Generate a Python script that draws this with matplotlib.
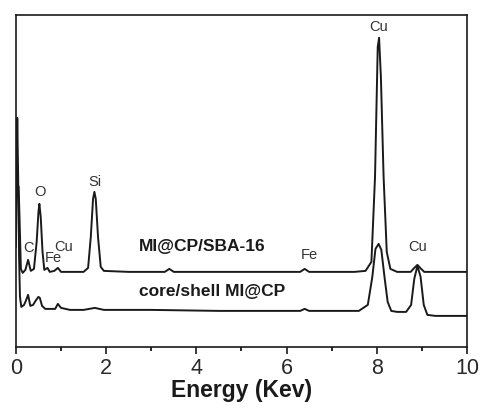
import matplotlib
matplotlib.use("Agg")
import matplotlib.pyplot as plt
from matplotlib.ticker import MultipleLocator

plt.rcParams['font.family'] = ['Liberation Sans', 'DejaVu Sans']

# Spectrum of MI@CP/SBA-16 (energy keV, intensity a.u.)
sba_x = [0.06, 0.08, 0.11, 0.15, 0.21, 0.27, 0.33, 0.40, 0.46, 0.50, 0.52, 0.55, 0.59,
         0.63, 0.70, 0.75, 0.85, 0.93, 1.00, 1.20, 1.50, 1.60, 1.66, 1.71, 1.74, 1.77,
         1.82, 1.88, 1.95, 2.50, 3.30, 3.40, 3.50, 4.50, 5.50, 6.30, 6.40, 6.50, 7.50,
         7.75, 7.88, 7.96, 8.02, 8.05, 8.09, 8.15, 8.22, 8.30, 8.45, 8.75, 8.83, 8.90,
         8.96, 9.05, 9.20, 10.0]
sba_y = [160, 130, 78, 74, 77, 87, 76, 78, 105, 135, 143, 130, 95,
         77, 79, 75, 76, 79, 75, 75, 75, 79, 110, 148, 155, 148,
         110, 80, 76, 75, 75, 78, 75, 75, 75, 75, 78, 75, 75,
         76, 85, 170, 300, 309, 270, 170, 95, 78, 75, 75, 79, 82,
         79, 75, 75, 75]

# Spectrum of core/shell MI@CP
cs_x = [0.00, 0.03, 0.05, 0.07, 0.09, 0.12, 0.18, 0.22, 0.27, 0.32, 0.38, 0.45, 0.50,
        0.53, 0.58, 0.65, 0.75, 0.87, 0.93, 1.00, 1.20, 1.50, 1.75, 1.95, 3.00, 4.50,
        6.30, 6.40, 6.50, 7.60, 7.80, 7.90, 7.97, 8.04, 8.10, 8.17, 8.24, 8.32, 8.45,
        8.65, 8.76, 8.83, 8.90, 8.97, 9.04, 9.12, 9.30, 10.0]
cs_y = [100, 229, 170, 90, 50, 40, 42, 46, 52, 41, 42, 47, 50,
        49, 41, 38, 38, 38, 43, 39, 37, 37, 39, 37, 37, 36,
        36, 38, 36, 36, 42, 70, 98, 103, 97, 70, 45, 36, 35,
        35, 42, 68, 81, 70, 42, 32, 31, 31]

# Peak labels
peak_labels = ["C", "O", "Fe", "Cu", "Si", "Fe", "Cu", "Cu"]
peak_label_x = [0.29, 0.53, 0.82, 1.06, 1.75, 6.50, 8.03, 8.91]
peak_label_y = [99, 155, 89, 100, 165, 92, 320, 100]

fig = plt.figure(figsize=(4.82, 4.12), dpi=100)
ax = fig.add_axes([0.033, 0.158, 0.936, 0.806])

ax.plot(sba_x, sba_y, color='#1a1a1a', lw=1.4)
ax.plot(cs_x, cs_y, color='#1a1a1a', lw=1.4)

for t, x, y in zip(peak_labels, peak_label_x, peak_label_y):
    ax.text(x, y, t, ha='center', va='center', fontsize=10.5, color='#333333')

ax.text(4.14, 100, "MI@CP/SBA-16", ha='center', va='center', fontsize=12.5,
        fontweight='bold', color='#1a1a1a')
ax.text(4.34, 55, "core/shell MI@CP", ha='center', va='center', fontsize=12.5,
        fontweight='bold', color='#1a1a1a')

ax.set_xlim(0, 10)
ax.set_ylim(0, 332)
ax.set_yticks([])
ax.xaxis.set_major_locator(MultipleLocator(2))
ax.xaxis.set_minor_locator(MultipleLocator(1))
ax.tick_params(axis='x', which='major', direction='out', length=5, width=1.2,
               labelsize=15.5, colors='#1a1a1a', labelcolor='#2a2a2a', pad=3)
ax.tick_params(axis='x', which='minor', direction='out', length=3, width=1.2)
for s in ax.spines.values():
    s.set_linewidth(1.2)
    s.set_color('#1a1a1a')
ax.set_xlabel("Energy (Kev)", fontsize=16.5, fontweight='bold', color='#1a1a1a', labelpad=0)

fig.savefig("out.png", dpi=100)
